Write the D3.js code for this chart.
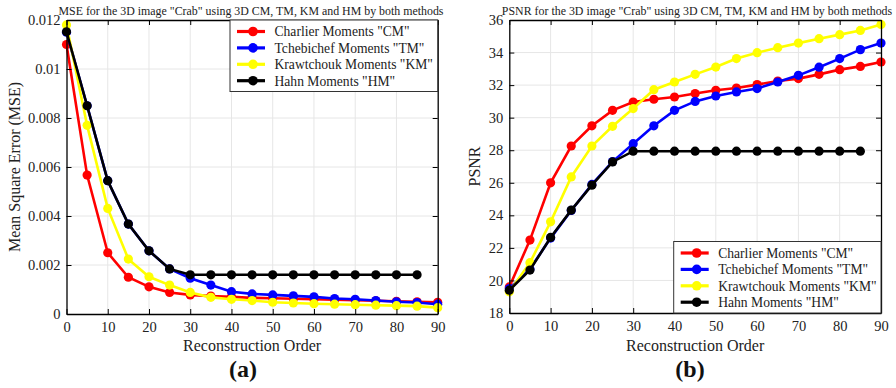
<!DOCTYPE html>
<html>
<head>
<meta charset="utf-8">
<script src="https://cdn.jsdelivr.net/npm/d3@7"></script>
<style>
body { margin: 0; background: #fff; }
</style>
</head>
<body>
<div id="home"></div>
<script>
// reconstruction orders
var orders = [0, 5, 10, 15, 20, 25, 30, 35, 40, 45, 50, 55, 60, 65, 70, 75, 80, 85, 90];
var ordersHM = [0, 5, 10, 15, 20, 25, 30, 35, 40, 45, 50, 55, 60, 65, 70, 75, 80, 85];

// MSE values (a)
var mseCM = [0.0110, 0.00567, 0.0025, 0.0015, 0.00111, 0.00088, 0.00078, 0.00073, 0.0007, 0.00066, 0.00064, 0.00062, 0.0006, 0.00058, 0.00056, 0.00054, 0.00052, 0.0005, 0.00048];
var mseTM = [0.0115, 0.0085, 0.00544, 0.00367, 0.00258, 0.00184, 0.00146, 0.00118, 0.00091, 0.00082, 0.00078, 0.00074, 0.0007, 0.00063, 0.0006, 0.00055, 0.0005, 0.00047, 0.0004];
var mseKM = [0.0118, 0.0077, 0.00431, 0.00224, 0.00152, 0.00118, 0.00088, 0.00068, 0.0006, 0.00055, 0.00048, 0.00045, 0.00042, 0.0004, 0.00038, 0.00036, 0.00034, 0.00032, 0.00026];
var mseHM = [0.01152, 0.0085, 0.00544, 0.00367, 0.00258, 0.00184, 0.0016, 0.0016, 0.0016, 0.0016, 0.0016, 0.0016, 0.0016, 0.0016, 0.0016, 0.0016, 0.0016, 0.0016];

// PSNR values (b)
var psnrCM = [19.6, 22.48, 26.0, 28.26, 29.5, 30.45, 30.96, 31.13, 31.27, 31.48, 31.68, 31.82, 32.03, 32.25, 32.4, 32.66, 32.95, 33.15, 33.42];
var psnrTM = [19.5, 20.7, 22.6, 24.3, 25.9, 27.3, 28.4, 29.5, 30.45, 31.0, 31.33, 31.58, 31.79, 32.19, 32.6, 33.1, 33.63, 34.18, 34.58];
var psnrKM = [19.3, 21.09, 23.6, 26.36, 28.26, 29.47, 30.56, 31.72, 32.19, 32.66, 33.11, 33.63, 33.99, 34.3, 34.58, 34.85, 35.1, 35.36, 35.73];
var psnrHM = [19.4, 20.64, 22.64, 24.32, 25.85, 27.28, 27.94, 27.94, 27.94, 27.94, 27.94, 27.94, 27.94, 27.94, 27.94, 27.94, 27.94, 27.94];

var seriesNames = ['Charlier Moments "CM"', 'Tchebichef Moments "TM"', 'Krawtchouk Moments "KM"', 'Hahn Moments "HM"'];
var seriesColors = ["#ff0000", "#0000ff", "#ffff00", "#000000"];

var xTicks = [0, 10, 20, 30, 40, 50, 60, 70, 80, 90];
var mseTicks = [0, 0.002, 0.004, 0.006, 0.008, 0.01, 0.012];
var psnrTicks = [18, 20, 22, 24, 26, 28, 30, 32, 34, 36];

var FONT = "Liberation Serif";

var svg = d3.select("#home").append("svg")
    .attr("width", 896)
    .attr("height", 388)
    .attr("font-family", FONT);

function buildPanel(cfg) {
    var x = d3.scaleLinear().domain([0, 90]).range([cfg.left, cfg.right]);
    var y = d3.scaleLinear().domain(cfg.yDomain).range([cfg.bottom, cfg.top]);
    var g = svg.append("g");

    // grid
    g.selectAll(".vgrid").data(xTicks.slice(1, -1)).enter().append("line")
        .attr("x1", d => x(d)).attr("x2", d => x(d))
        .attr("y1", cfg.top).attr("y2", cfg.bottom)
        .attr("stroke", "#e6e6e6").attr("stroke-width", 1);
    g.selectAll(".hgrid").data(cfg.yTicks.slice(1, -1)).enter().append("line")
        .attr("x1", cfg.left).attr("x2", cfg.right)
        .attr("y1", d => y(d)).attr("y2", d => y(d))
        .attr("stroke", "#e6e6e6").attr("stroke-width", 1);

    // series: red, blue, yellow, black on top
    cfg.series.forEach(function (s, i) {
        var xs = s.length === orders.length ? orders : ordersHM;
        var pts = s.map((v, j) => [xs[j], v]);
        g.append("path")
            .datum(pts)
            .attr("d", d3.line().x(d => x(d[0])).y(d => y(d[1])))
            .attr("fill", "none")
            .attr("stroke", seriesColors[i])
            .attr("stroke-width", 2.6);
        g.selectAll(".m" + i).data(pts).enter().append("circle")
            .attr("cx", d => x(d[0]))
            .attr("cy", d => y(d[1]))
            .attr("r", 4.6)
            .attr("fill", seriesColors[i]);
    });

    // axes with inward ticks on all sides
    var xb = g.append("g").attr("transform", "translate(0," + cfg.bottom + ")")
        .call(d3.axisBottom(x).tickValues(xTicks).tickSizeInner(-5).tickSizeOuter(0).tickPadding(8));
    var xt = g.append("g").attr("transform", "translate(0," + cfg.top + ")")
        .call(d3.axisTop(x).tickValues(xTicks).tickSizeInner(-5).tickSizeOuter(0).tickFormat(""));
    var yl = g.append("g").attr("transform", "translate(" + cfg.left + ",0)")
        .call(d3.axisLeft(y).tickValues(cfg.yTicks).tickSizeInner(-5).tickSizeOuter(0).tickPadding(6).tickFormat(cfg.fmt));
    var yr = g.append("g").attr("transform", "translate(" + cfg.right + ",0)")
        .call(d3.axisRight(y).tickValues(cfg.yTicks).tickSizeInner(-5).tickSizeOuter(0).tickFormat(""));
    [xb, xt, yl, yr].forEach(function (a) {
        a.attr("font-family", FONT);
        a.select(".domain").attr("stroke", "#000").attr("stroke-width", 1.3);
        a.selectAll(".tick line").attr("stroke", "#000").attr("stroke-width", 1);
        a.selectAll("text").attr("font-size", 14.5).attr("fill", "#222");
    });

    // title
    svg.append("text")
        .attr("x", cfg.titleX).attr("y", 15)
        .attr("text-anchor", "middle")
        .attr("font-size", 11.9)
        .attr("fill", "#222")
        .text(cfg.title);

    // y label
    svg.append("text")
        .attr("transform", "translate(" + cfg.yLabelX + "," + ((cfg.top + cfg.bottom) / 2) + ") rotate(-90)")
        .attr("text-anchor", "middle")
        .attr("font-size", 16)
        .attr("fill", "#222")
        .text(cfg.yLabel);

    // x label
    svg.append("text")
        .attr("x", (cfg.left + cfg.right) / 2).attr("y", 351)
        .attr("text-anchor", "middle")
        .attr("font-size", 16)
        .attr("fill", "#222")
        .text("Reconstruction Order");

    svg.append("text")
        .attr("x", cfg.capX).attr("y", 377)
        .attr("text-anchor", "middle")
        .attr("font-size", 24)
        .attr("font-weight", "bold")
        .attr("fill", "#111")
        .text(cfg.caption);

    // legend
    var lg = svg.append("g").attr("transform", "translate(" + cfg.legX + "," + cfg.legY + ")");
    lg.append("rect")
        .attr("x", 0).attr("y", 0)
        .attr("width", cfg.right - cfg.legX).attr("height", 71.5)
        .attr("fill", "#fff").attr("stroke", "#333").attr("stroke-width", 1);
    seriesNames.forEach(function (n, i) {
        var yy = 11.5 + i * 16.4;
        lg.append("line")
            .attr("x1", 7).attr("x2", 35).attr("y1", yy).attr("y2", yy)
            .attr("stroke", seriesColors[i]).attr("stroke-width", 3.2);
        lg.append("circle").attr("cx", 23).attr("cy", yy).attr("r", 4.8).attr("fill", seriesColors[i]);
        lg.append("text")
            .attr("x", 44.5).attr("y", yy + 4.8)
            .attr("font-size", 13.6)
            .attr("fill", "#222")
            .text(n);
    });
}

buildPanel({
    left: 66.5, right: 437.7, top: 20, bottom: 314,
    yDomain: [0, 0.012], yTicks: mseTicks, fmt: d3.format("~g"),
    series: [mseCM, mseTM, mseKM, mseHM],
    title: 'MSE for the 3D image "Crab" using 3D CM, TM, KM and HM by both methods',
    titleX: 251,
    yLabel: "Mean Square Error (MSE)", yLabelX: 20,
    caption: "(a)", capX: 243,
    legX: 230, legY: 20
});

buildPanel({
    left: 509.3, right: 881, top: 20, bottom: 313,
    yDomain: [18, 36], yTicks: psnrTicks, fmt: d3.format("d"),
    series: [psnrCM, psnrTM, psnrKM, psnrHM],
    title: 'PSNR for the 3D image "Crab" using 3D CM, TM, KM and HM by both methods',
    titleX: 697,
    yLabel: "PSNR", yLabelX: 480,
    caption: "(b)", capX: 690,
    legX: 673.7, legY: 241.5
});
</script>
</body>
</html>
